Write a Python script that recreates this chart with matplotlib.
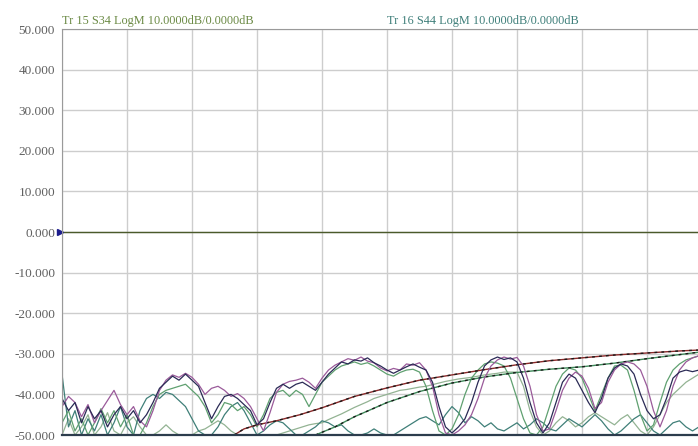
import numpy as np
import matplotlib
matplotlib.use("Agg")
import matplotlib.pyplot as plt

# sweep points (grid divisions 0..9.8, 10 divisions across the screen)
puntos = np.round(np.arange(99) * 0.1, 1)

traza_navy = [-41, -44, -42, -47, -43, -46, -44, -48, -45, -43,
              -46, -44, -47, -45, -42, -38.5, -37, -35.5, -36.5, -35,
              -36.5, -38, -42, -46, -43, -40.5, -40, -41, -42.5, -44,
              -47.5, -46, -42, -38.5, -37.5, -38.5, -37.5, -37, -38, -39,
              -37, -35, -33.5, -32, -32.5, -31.5, -31.8, -31, -32.2, -33,
              -34, -34.8, -34, -33.2, -32.5, -33.3, -34, -37, -43, -48,
              -49.5, -48, -46, -42, -37, -33, -31.5, -30.8, -31.4, -31,
              -32, -36, -42, -47, -49.5, -47, -42, -37, -35, -36,
              -39, -42, -44.5, -41, -36, -33.5, -32.5, -33, -35, -40,
              -44, -46, -45, -41, -36, -34.5, -34, -34.4, -34]

traza_morada = [-43, -40.5, -42, -45.5, -42.5, -47, -44, -41.5, -39, -42.5,
                -45, -43, -46.5, -48, -44, -39, -36.5, -35.2, -35.8, -34.8,
                -35.8, -37.5, -40, -38.5, -38, -39, -40.5, -39.8, -41, -43,
                -46, -49, -44.5, -39.5, -37.5, -36.8, -36.5, -36, -37, -38.5,
                -36, -34, -32.8, -32, -31.2, -31.6, -30.8, -31.8, -32.2, -33.5,
                -34.2, -33.6, -34, -32.5, -32.8, -32.2, -34, -38, -45, -49.5,
                -50, -49, -47.5, -45, -41, -36, -33, -31.5, -30.8, -31.3,
                -30.9, -33, -38, -45, -49, -48.5, -44, -39, -36, -34.5,
                -35.5, -38.5, -43.5, -42, -37, -34, -32.5, -32, -32.5, -34,
                -38, -44, -48, -44, -38, -34, -32, -31, -30.5]

traza_verde = [-47, -44, -49, -46, -50, -47, -43.5, -47, -44, -48,
               -45, -50, -50, -47, -43, -40, -39, -38.5, -38, -37.5,
               -39, -40.5, -43, -47, -45, -42, -42.5, -44, -43, -45,
               -48, -45, -41, -39.5, -39, -40.5, -39, -40, -43, -40,
               -37, -35.5, -34, -33, -32.5, -32, -32.6, -32.2, -33, -34,
               -35, -35.5, -34.6, -34, -33.8, -34.5, -38, -44, -49, -50,
               -48.5, -45, -40, -36, -34, -32.5, -32, -32.3, -33, -36,
               -41, -46, -49.5, -50, -48, -43, -38, -35, -33.5, -34,
               -36, -40, -44, -40, -36, -33, -32.8, -34, -39, -45,
               -49, -47.5, -42, -37, -34, -32.5, -31.5, -31, -30.5]

traza_teal = [-35, -48, -44, -50, -46, -49, -45, -50, -47, -43,
              -48, -50, -44, -41, -40, -41, -39.5, -40, -41.5, -43,
              -46, -49, -50, -50, -48, -45, -43, -42, -44, -47,
              -50, -49, -47.5, -46.5, -47, -48.5, -50, -50, -49, -48,
              -46.5, -47, -48, -47.5, -49, -50, -50, -49.5, -48.5, -49.5,
              -50, -50, -49, -48, -47, -46, -45.5, -46.5, -47.5, -45,
              -43, -44.5, -47, -45.5, -46.5, -48, -47, -48.5, -49, -48,
              -47, -48.5, -47.5, -46, -47, -48.5, -49, -47.5, -46, -47,
              -48, -46.5, -45, -46.5, -48.5, -50, -49, -47.5, -46, -45,
              -47, -49, -50, -48.5, -47, -46.5, -48, -49, -48]

traza_gris = [-50, -46, -50, -48, -45, -50, -48, -44.5, -49, -50,
              -47, -45.5, -48, -50, -50, -49, -47.5, -49, -50, -50,
              -50, -49, -48.5, -47.5, -46.5, -47.5, -49, -50, -50, -50,
              -50, -50, -50, -50, -49.5, -49, -48.5, -48, -47.5, -47.2,
              -47, -46.2, -45.5, -44.8, -44, -43.2, -42.5, -41.8, -41, -40.5,
              -40, -39.5, -39, -38.8, -38.5, -38.2, -38, -37.6, -37.2, -36.8,
              -36.5, -36.2, -36, -35.8, -35.5, -35.2, -35, -34.8, -34.5, -34.5,
              -34.5, -38, -44, -48, -50, -49, -47, -45.5, -46.5, -48,
              -47, -45.5, -44.5, -45.5, -46.5, -47.5, -46, -45, -47, -49,
              -50, -48, -45, -42, -40, -38.5, -37, -36, -35]

# the two smooth rising traces
sube1_x = [2.65, 2.8, 3.0, 3.3, 3.66, 4.0, 4.5, 5.0, 5.5, 6.0, 6.5, 7.0, 7.5, 8.0, 8.5, 9.0, 9.5, 9.9]
sube1_y = [-50, -48.5, -47.5, -46.5, -45, -43.3, -40.5, -38.4, -36.5, -35.2, -33.9, -32.7, -31.7, -31, -30.3, -29.8, -29.3, -29]
sube2_x = [3.9, 4.2, 4.5, 5.0, 5.5, 6.0, 6.5, 7.0, 7.5, 8.0, 8.5, 9.0, 9.5, 9.9]
sube2_y = [-50, -48, -45.5, -42, -39.3, -37.2, -35.7, -34.6, -33.8, -33.2, -32.3, -31.2, -30.2, -29.4]

marcas_y = [50, 40, 30, 20, 10, 0, -10, -20, -30, -40, -50]
etiquetas_y = ["50.000", "40.000", "30.000", "20.000", "10.000", "0.000",
               "-10.000", "-20.000", "-30.000", "-40.000", "-50.000"]

fig = plt.figure(figsize=(6.98, 4.46), dpi=100)
# the screen is wider than the picture: the right part is cut off
ax = fig.add_axes([62 / 698, 11 / 446, 650 / 698, 406 / 446])
ax.set_xlim(0, 10)
ax.set_ylim(-50, 50)

ax.set_xticks(np.arange(0, 11, 1))
ax.set_xticklabels([])
ax.set_yticks(marcas_y)
ax.set_yticklabels(etiquetas_y, family="Liberation Serif", fontsize=9.5, color="#606060")
ax.tick_params(length=0, pad=5)
ax.grid(True, color="#cdcdcd", linewidth=1.0)

for lado in ["top", "left"]:
    ax.spines[lado].set_color("#9a9a9a")
ax.spines["right"].set_visible(False)
ax.spines["bottom"].set_color("#2c3c4c")
ax.spines["bottom"].set_linewidth(1.6)

ax.axhline(0, color="#4b5a2b", linewidth=1.0)

ax.plot(puntos, traza_gris, color="#93b393", linewidth=0.9)
ax.plot(puntos, traza_teal, color="#3f7f78", linewidth=0.9)
ax.plot(puntos, traza_verde, color="#5fa070", linewidth=0.9)
ax.plot(sube2_x, sube2_y, color="#3f8a5a", linewidth=1.0)
ax.plot(sube2_x, sube2_y, color="#1a1a1a", linewidth=1.0, dashes=(2, 3))
ax.plot(sube1_x, sube1_y, color="#8b2a2a", linewidth=1.0)
ax.plot(sube1_x, sube1_y, color="#1a1a1a", linewidth=1.0, dashes=(2, 3))
ax.plot(puntos, traza_morada, color="#9a5a9a", linewidth=0.9)
ax.plot(puntos, traza_navy, color="#2a2a55", linewidth=0.9)

# reference marker at 0 dB
ax.plot(-0.03, 0, marker=">", markersize=5, color="#1c1c8c", clip_on=False)

ax.text(0.0, 50.6, "Tr 15 S34 LogM 10.0000dB/0.0000dB", family="Liberation Serif",
        fontsize=8.85, color="#6b8a45", va="bottom", ha="left")
ax.text(5.0, 50.6, "Tr 16 S44 LogM 10.0000dB/0.0000dB", family="Liberation Serif",
        fontsize=8.85, color="#3f7f7a", va="bottom", ha="left")

fig.savefig("out.png", dpi=100)
